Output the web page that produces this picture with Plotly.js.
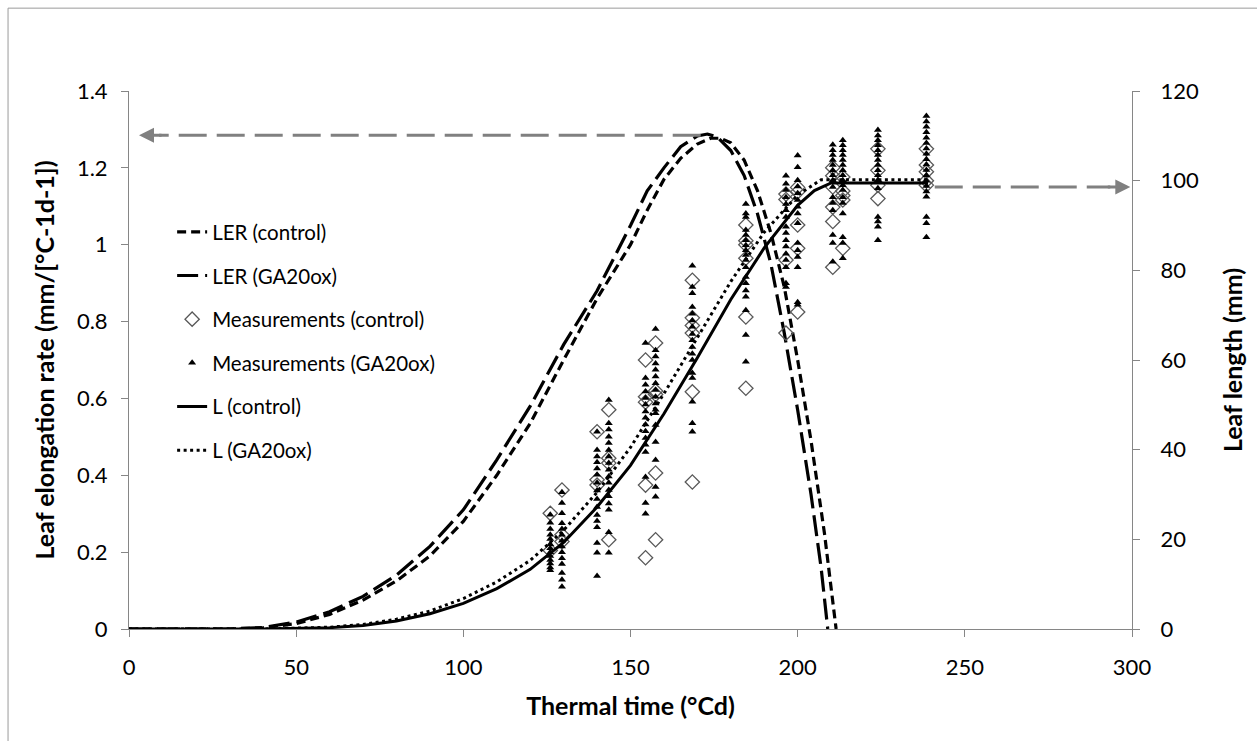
<!DOCTYPE html>
<html><head><meta charset="utf-8">
<script src="https://cdn.plot.ly/plotly-3.0.1.min.js"></script>
<style>html,body{margin:0;padding:0;background:#fff}#chart{width:1257px;height:741px}</style>
</head><body><div id="chart"></div>
<script>
// ---- LER curves (left axis, mm/[°C-1d-1]) ----
const lerControlX = [0, 30, 40, 50, 60, 70, 80, 90, 100, 110, 120, 130, 140, 150, 155, 160, 165, 170, 174, 177, 180, 184, 188, 192, 196, 200, 204, 208, 211.5];
const lerControlY = [0, 0, 0.003, 0.014, 0.038, 0.075, 0.125, 0.19, 0.28, 0.40, 0.535, 0.70, 0.86, 1.0, 1.09, 1.17, 1.225, 1.262, 1.277, 1.277, 1.265, 1.22, 1.14, 1.03, 0.89, 0.70, 0.49, 0.25, 0];
const lerGAX = [0, 30, 40, 50, 60, 70, 80, 90, 100, 110, 120, 130, 140, 150, 155, 160, 165, 170, 173, 176, 180, 184, 188, 192, 196, 200, 204, 207, 209];
const lerGAY = [0, 0, 0.004, 0.018, 0.045, 0.085, 0.14, 0.215, 0.31, 0.44, 0.58, 0.74, 0.88, 1.05, 1.14, 1.2, 1.255, 1.283, 1.288, 1.28, 1.245, 1.18, 1.08, 0.95, 0.77, 0.57, 0.35, 0.16, 0];

// ---- Leaf length curves (right axis, mm) ----
const lControlX = [0, 40, 60, 70, 80, 90, 100, 110, 120, 130, 140, 150, 160, 170, 180, 190, 200, 205, 210, 239];
const lControlY = [0, 0, 0.3, 0.8, 1.8, 3.4, 5.7, 9.0, 13.3, 19.3, 27.2, 36.5, 48.0, 60.5, 73.5, 85.0, 94.5, 97.8, 99.5, 99.5];
const lGAX = [0, 40, 60, 70, 80, 90, 100, 110, 120, 130, 140, 150, 160, 170, 180, 190, 200, 207, 239];
const lGAY = [0, 0, 0.4, 1.0, 2.2, 4.0, 6.8, 10.5, 15.3, 22.0, 30.5, 40.5, 52.5, 65.0, 77.5, 88.5, 96.8, 100.2, 100.2];

// ---- Measurements (right axis, mm), grouped by thermal time ----
const measTimes = [126, 129.5, 140, 143.5, 154.5, 157.5, 168.5, 184.5, 196.5, 200, 210.5, 213.5, 224, 238.5];
const measControl = [
  [25.8, 17.5],
  [31.0, 21.0, 19.5],
  [44.0, 33.3, 32.1],
  [48.9, 38.1, 37.0, 19.9],
  [60.0, 51.8, 50.6, 32.1, 15.9],
  [63.8, 53.1, 52.3, 34.8, 19.9],
  [77.8, 69.4, 67.7, 66.0, 52.9, 32.8],
  [90.1, 86.6, 85.7, 82.7, 69.6, 53.7],
  [97.0, 95.8, 82.3, 66.0],
  [98.5, 97.5, 90.1, 84.9, 70.7],
  [102.9, 101.1, 98.6, 94.1, 90.9, 80.7],
  [100.8, 97.7, 96.7, 95.7, 84.9],
  [107.1, 102.3, 99.0, 96.0],
  [107.1, 103.5, 102.0, 100.0, 99.0]
];
const measGA = [
  [25.5, 23.7, 22.3, 21.0, 20.1, 18.9, 18.0, 17.1, 16.3, 15.4, 14.6, 13.7, 13.1],
  [30.5, 28.1, 25.8, 23.6, 22.3, 21.0, 19.7, 18.4, 17.1, 15.8, 14.5, 12.5, 11.0, 9.4],
  [44.0, 39.9, 38.5, 37.2, 35.8, 34.4, 32.6, 30.9, 29.0, 27.2, 25.4, 24.1, 22.7, 19.2, 17.0, 11.8],
  [51.1, 45.9, 44.5, 42.9, 41.5, 39.9, 38.5, 37.0, 35.5, 34.0, 32.6, 31.0, 29.6, 28.0, 26.6, 21.6, 17.0],
  [63.8, 56.0, 54.5, 53.0, 51.5, 50.1, 48.5, 47.1, 45.6, 44.1, 42.6, 41.1, 39.5, 33.9, 28.1, 25.7],
  [66.9, 62.2, 60.8, 59.2, 57.8, 56.3, 54.8, 53.3, 51.8, 50.3, 48.9, 48.1, 45.5, 41.7, 37.7, 31.7, 29.5],
  [81.0, 76.3, 74.9, 71.8, 70.3, 68.8, 67.4, 65.8, 64.4, 62.9, 61.4, 60.0, 57.1, 56.0, 50.7, 45.9, 44.0],
  [94.8, 92.7, 91.9, 89.0, 87.9, 86.7, 85.6, 84.5, 83.4, 82.3, 80.7, 78.5, 77.1, 75.5, 74.1, 71.1, 65.6, 59.6],
  [101.1, 99.3, 97.9, 96.3, 94.8, 93.4, 91.9, 89.7, 88.3, 86.7, 85.3, 83.7, 82.3, 80.7, 77.1, 76.3],
  [105.6, 103.0, 100.1, 98.7, 97.2, 95.7, 94.2, 92.7, 90.5, 86.1, 84.5, 83.0, 80.7, 72.9, 72.3],
  [108.0, 106.8, 105.7, 104.6, 103.5, 102.3, 101.2, 100.1, 98.6, 96.3, 95.0, 93.4, 87.9, 86.1, 81.9],
  [109.0, 107.9, 106.8, 105.7, 104.6, 103.5, 102.3, 101.2, 100.1, 99.0, 97.9, 96.3, 95.0, 92.7, 87.4, 86.1, 82.7],
  [111.3, 110.1, 109.0, 107.9, 106.8, 105.7, 104.6, 103.5, 102.3, 101.2, 100.1, 98.3, 91.9, 90.9, 89.7, 86.7],
  [114.4, 113.2, 112.0, 110.8, 109.6, 108.4, 107.2, 106.0, 104.8, 103.6, 102.4, 101.2, 100.0, 98.8, 97.6, 96.4, 91.9, 90.5, 87.4]
];

// ---- Guide arrows ----
const peakArrowX = [171, 3];        // from LER peak to left axis
const peakArrowY = 1.285;           // left axis
const plateauArrowX = [241, 299.5]; // from final length to right axis
const plateauArrowY = 98.6;         // right axis

// ---- Titles ----
const xTitle = 'Thermal time (°Cd)';
const yTitle = 'Leaf elongation rate (mm/[°C-1d-1])';
const y2Title = 'Leaf length (mm)';

function flatten(times, groups) {
  const xs = [], ys = [];
  groups.forEach((g, i) => g.forEach(v => { xs.push(times[i]); ys.push(v); }));
  return {x: xs, y: ys};
}
const mc = flatten(measTimes, measControl);
const mg = flatten(measTimes, measGA);

const FONT = 'Lato, "Open Sans", sans-serif';
const GREY = '#808080';

const traces = [
  {x: lerControlX, y: lerControlY, name: 'LER (control)', mode: 'lines', legendgroup: 'a',
   line: {color: '#000', width: 3.2, dash: '9px,5px'}},
  {x: lerGAX, y: lerGAY, name: 'LER (GA20ox)', mode: 'lines', legendgroup: 'b',
   line: {color: '#000', width: 3.2, dash: '21px,7px'}},
  {x: mc.x, y: mc.y, yaxis: 'y2', name: 'Measurements (control)', mode: 'markers', legendgroup: 'c',
   marker: {symbol: 'diamond-open', size: 11, color: '#595959', line: {width: 1.3, color: '#595959'}}},
  {x: mg.x, y: mg.y, yaxis: 'y2', name: 'Measurements (GA20ox)', mode: 'markers', legendgroup: 'd',
   marker: {symbol: 'triangle-up', size: 7, color: '#000'}},
  {x: lControlX, y: lControlY, yaxis: 'y2', name: 'L (control)', mode: 'lines', legendgroup: 'e',
   line: {color: '#000', width: 3}},
  {x: lGAX, y: lGAY, yaxis: 'y2', name: 'L (GA20ox)', mode: 'lines', legendgroup: 'f',
   line: {color: '#000', width: 3, dash: '3px,3.5px'}},
  {x: [peakArrowX[0], peakArrowX[1] + 6], y: [peakArrowY, peakArrowY], mode: 'lines', showlegend: false,
   hoverinfo: 'skip', line: {color: GREY, width: 3, dash: '28px,10px'}},
  {x: [plateauArrowX[0], plateauArrowX[1] - 6], y: [plateauArrowY, plateauArrowY], yaxis: 'y2', mode: 'lines',
   showlegend: false, hoverinfo: 'skip', line: {color: GREY, width: 3, dash: '28px,10px'}}
];

const axisCommon = {
  showgrid: false, zeroline: false, showline: true, linecolor: '#868686', linewidth: 1,
  ticks: 'outside', ticklen: 7, tickcolor: '#868686', tickwidth: 1,
  tickfont: {family: FONT, size: 22, color: '#000'}
};
const titleFont = {family: FONT, size: 25, weight: 'bold', color: '#000'};

const layout = {
  width: 1257, height: 741,
  margin: {l: 129, r: 125, t: 91, b: 112},
  paper_bgcolor: '#fff', plot_bgcolor: '#fff',
  font: {family: FONT, color: '#000'},
  showlegend: true,
  legend: {x: 0.043, y: 0.775, xanchor: 'left', yanchor: 'top', bgcolor: 'rgba(0,0,0,0)',
           font: {family: FONT, size: 20.5, color: '#000'}, tracegroupgap: 14},
  xaxis: Object.assign({}, axisCommon, {range: [0, 300], dtick: 50, tick0: 0, ticklabelstandoff: 12,
    title: {text: xTitle, font: titleFont, standoff: 18}}),
  yaxis: Object.assign({}, axisCommon, {range: [0, 1.4], dtick: 0.2, tick0: 0, ticklabelstandoff: 9,
    title: {text: yTitle, font: titleFont, standoff: 15}}),
  yaxis2: Object.assign({}, axisCommon, {range: [0, 120], dtick: 20, tick0: 0, overlaying: 'y', side: 'right',
    ticklabelstandoff: 16, title: {text: y2Title, font: titleFont, standoff: 26}}),
  annotations: [
    {x: peakArrowX[1], y: peakArrowY, xref: 'x', yref: 'y', ax: 24, ay: 0, showarrow: true, text: '',
     arrowhead: 2, arrowsize: 1, arrowwidth: 3, arrowcolor: GREY},
    {x: plateauArrowX[1], y: plateauArrowY, xref: 'x', yref: 'y2', ax: -24, ay: 0, showarrow: true, text: '',
     arrowhead: 2, arrowsize: 1, arrowwidth: 3, arrowcolor: GREY}
  ],
  shapes: [
    {type: 'line', xref: 'paper', yref: 'paper', x0: -0.1206, x1: 1.2, y0: 1.154, y1: 1.154, line: {color: '#9a9a9a', width: 1}},
    {type: 'line', xref: 'paper', yref: 'paper', x0: -0.1206, x1: -0.1206, y0: 1.154, y1: -0.3, line: {color: '#9a9a9a', width: 1}}
  ]
};

Plotly.newPlot('chart', traces, layout, {displayModeBar: false, staticPlot: true});
</script>
</body></html>
